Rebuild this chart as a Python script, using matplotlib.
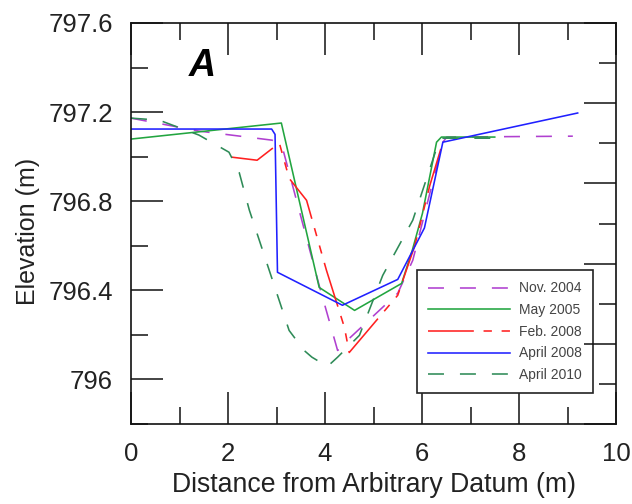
"""Channel cross-section profiles, panel A."""
import matplotlib
matplotlib.use('Agg')
import matplotlib.pyplot as plt
from matplotlib.ticker import MultipleLocator

plt.rcParams['font.family'] = ['Liberation Sans', 'DejaVu Sans']
plt.rcParams['lines.scale_dashes'] = False

TXT = '#222222'

# ---- survey profiles (distance m, elevation m) ----
nov04_x = [0, 1.40, 2.91, 3.12, 3.88, 4.26, 4.50, 5.50, 5.81, 6.43, 6.51, 9.11]
nov04_y = [797.173, 797.115, 797.074, 797.043, 796.422, 796.130, 796.184,
           796.387, 796.535, 797.065, 797.088, 797.092]

may05_x = [0, 3.10, 3.88, 4.61, 5.58, 5.80, 6.01, 6.30, 6.40, 7.50]
may05_y = [797.079, 797.151, 796.413, 796.310, 796.431, 796.58, 796.746,
           797.065, 797.088, 797.088]

feb08_x = [2.07, 2.60, 2.95, 3.06, 3.26, 3.62, 4.03, 4.40, 4.50, 5.29,
           5.50, 5.85, 6.16, 6.43]
feb08_y = [796.998, 796.984, 797.043, 797.06, 796.903, 796.804, 796.49,
           796.234, 796.121, 796.324, 796.378, 796.60, 796.87, 797.065]

apr08_x = [0, 2.90, 2.97, 3.02, 4.36, 5.50, 6.05, 6.43, 9.21]
apr08_y = [797.124, 797.124, 797.10, 796.481, 796.333, 796.449, 796.68,
           797.065, 797.196]

apr10_x = [0, 0.58, 1.40, 2.02, 2.23, 2.44, 2.85, 3.26, 3.57, 3.73, 4.05,
           4.26, 4.71, 5.19, 5.81, 6.32, 6.40, 7.50]
apr10_y = [797.173, 797.164, 797.097, 797.02, 796.93, 796.76, 796.49,
           796.22, 796.13, 796.10, 796.058, 796.10, 796.198, 796.467,
           796.715, 797.05, 797.083, 797.083]

fig = plt.figure(figsize=(6.32, 5.04), dpi=100)
ax = fig.add_axes([131/632, 80/504, 485/632, 401/504])

ax.plot(nov04_x, nov04_y, color='#b040d0', lw=1.15, dashes=(11.5, 11.5),
        label='Nov. 2004')
ax.plot(may05_x, may05_y, color='#22a540', lw=1.15, label='May 2005')
ax.plot(feb08_x, feb08_y, color='#ff2020', lw=1.15,
        dashes=(33, 7, 6, 7, 6, 7), label='Feb. 2008')
ax.plot(apr08_x, apr08_y, color='#2020ff', lw=1.15, label='April 2008')
ax.plot(apr10_x, apr10_y, color='#2e8b57', lw=1.15, dashes=(11.5, 11.5),
        label='April 2010')

ax.set_xlim(0, 10)
ax.set_ylim(795.8, 797.6)
ax.xaxis.set_major_locator(MultipleLocator(2))
ax.xaxis.set_minor_locator(MultipleLocator(1))
ax.yaxis.set_major_locator(MultipleLocator(0.4))
ax.yaxis.set_minor_locator(MultipleLocator(0.2))
ax.yaxis.set_major_formatter(lambda v, p: f'{v:g}')

ax.tick_params(which='both', direction='in', top=True, right=False,
               width=1.1, color='#111111')
ax.tick_params(which='major', length=23)
ax.tick_params(which='minor', length=12)
ax.tick_params(axis='x', which='major', labelsize=18.5, pad=13, labelcolor=TXT)
ax.tick_params(axis='y', which='major', labelsize=18.5, pad=13, labelcolor=TXT)
for s in ax.spines.values():
    s.set_linewidth(1.2)
    s.set_color('#111111')

# right-hand tick marks (no labels)
tw = ax.twinx()
tw.set_ylim(0, 10)
tw.yaxis.set_major_locator(MultipleLocator(2))
tw.yaxis.set_minor_locator(MultipleLocator(1))
tw.tick_params(which='both', direction='in', right=True, left=False,
               labelright=False, width=1.1, color='#111111')
tw.tick_params(which='major', length=23)
tw.tick_params(which='minor', length=12)
for s in tw.spines.values():
    s.set_visible(False)

ax.text(0.147, 0.893, 'A', transform=ax.transAxes, ha='center', va='center',
        fontsize=27, fontweight='bold', style='italic', color='black')

leg = ax.legend(loc='lower right', bbox_to_anchor=(0.953, 0.077),
                borderaxespad=0, fontsize=10, handlelength=5.9,
                handletextpad=0.65, labelspacing=0.55, borderpad=0.8,
                fancybox=False, framealpha=1, edgecolor='#222222')
leg.get_frame().set_linewidth(1.2)
for t in leg.get_texts():
    t.set_color('#444444')

fig.text(374/632, 1 - 485/504, 'Distance from Arbitrary Datum (m)',
         ha='center', va='center', fontsize=19.2, color=TXT)
fig.text(28/632, 1 - 231/504, 'Elevation (m)', rotation=90,
         ha='center', va='center', fontsize=18, color=TXT)

fig.savefig('out.png', dpi=100, facecolor='white')
